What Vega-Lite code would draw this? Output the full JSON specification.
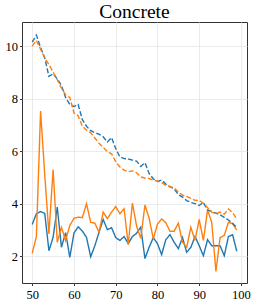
{
  "$schema": "https://vega.github.io/schema/vega-lite/v6.json",
  "width": 225,
  "height": 261,
  "autosize": {"type": "none"},
  "padding": {"left": 22, "top": 22, "right": 8, "bottom": 21},
  "background": "white",
  "title": {"text": "Concrete", "font": "Liberation Serif", "fontSize": 19.5, "fontWeight": "normal", "color": "black", "offset": 3, "dy": 3},
  "config": {
    "view": {"stroke": "#333", "strokeWidth": 1},
    "axis": {
      "labelFont": "Liberation Serif", "labelFontSize": 12.5, "labelColor": "black",
      "domain": false, "tickColor": "#333", "tickSize": 2.5,
      "gridColor": "#e6e6e6", "gridWidth": 0.8, "title": null
    }
  },
  "data": {
    "values": [
      {"x":50,"bs":3.21,"os":2.11,"bd":10.15,"od":10.0},
      {"x":51,"bs":3.62,"os":2.75,"bd":10.42,"od":10.22},
      {"x":52,"bs":3.70,"os":7.53,"bd":9.95,"od":9.88},
      {"x":53,"bs":3.63,"os":5.1,"bd":9.55,"od":9.55},
      {"x":54,"bs":2.21,"os":2.85,"bd":8.85,"od":9.30},
      {"x":55,"bs":2.72,"os":5.30,"bd":8.95,"od":9.02},
      {"x":56,"bs":3.87,"os":2.53,"bd":8.75,"od":8.72},
      {"x":57,"bs":2.34,"os":3.10,"bd":8.50,"od":8.40},
      {"x":58,"bs":2.90,"os":2.60,"bd":8.05,"od":8.15},
      {"x":59,"bs":1.96,"os":3.17,"bd":7.78,"od":8.05},
      {"x":60,"bs":2.88,"os":3.44,"bd":7.70,"od":7.45},
      {"x":61,"bs":3.12,"os":3.49,"bd":7.78,"od":7.35},
      {"x":62,"bs":2.96,"os":3.47,"bd":7.20,"od":6.95},
      {"x":63,"bs":2.72,"os":4.00,"bd":6.95,"od":6.80},
      {"x":64,"bs":1.98,"os":3.29,"bd":6.78,"od":6.70},
      {"x":65,"bs":2.40,"os":3.26,"bd":6.70,"od":6.50},
      {"x":66,"bs":2.91,"os":2.91,"bd":6.65,"od":6.30},
      {"x":67,"bs":3.40,"os":3.68,"bd":6.55,"od":6.15},
      {"x":68,"bs":3.01,"os":3.43,"bd":6.35,"od":5.98},
      {"x":69,"bs":3.09,"os":3.68,"bd":6.52,"od":5.90},
      {"x":70,"bs":2.71,"os":3.89,"bd":6.10,"od":5.60},
      {"x":71,"bs":2.60,"os":3.62,"bd":5.78,"od":5.40},
      {"x":72,"bs":2.75,"os":3.81,"bd":5.72,"od":5.28},
      {"x":73,"bs":2.48,"os":2.44,"bd":5.70,"od":5.22},
      {"x":74,"bs":2.75,"os":4.02,"bd":5.66,"od":5.25},
      {"x":75,"bs":2.87,"os":3.15,"bd":5.62,"od":5.18},
      {"x":76,"bs":3.11,"os":2.68,"bd":5.42,"od":5.02},
      {"x":77,"bs":1.91,"os":3.95,"bd":5.56,"od":4.98},
      {"x":78,"bs":2.34,"os":3.45,"bd":5.15,"od":4.96},
      {"x":79,"bs":2.71,"os":2.66,"bd":4.95,"od":4.90},
      {"x":80,"bs":2.48,"os":3.22,"bd":4.85,"od":4.86},
      {"x":81,"bs":2.06,"os":3.42,"bd":4.90,"od":4.80},
      {"x":82,"bs":2.63,"os":3.28,"bd":4.75,"od":4.70},
      {"x":83,"bs":2.82,"os":2.95,"bd":4.64,"od":4.65},
      {"x":84,"bs":2.53,"os":2.95,"bd":4.57,"od":4.60},
      {"x":85,"bs":2.29,"os":3.26,"bd":4.35,"od":4.45},
      {"x":86,"bs":2.71,"os":2.53,"bd":4.25,"od":4.32},
      {"x":87,"bs":2.15,"os":2.34,"bd":4.12,"od":4.28},
      {"x":88,"bs":2.34,"os":3.10,"bd":4.05,"od":4.20},
      {"x":89,"bs":2.75,"os":2.60,"bd":4.00,"od":4.13},
      {"x":90,"bs":2.40,"os":3.40,"bd":3.93,"od":4.12},
      {"x":91,"bs":2.02,"os":2.60,"bd":4.05,"od":4.02},
      {"x":92,"bs":2.63,"os":3.76,"bd":3.76,"od":3.85},
      {"x":93,"bs":2.40,"os":3.29,"bd":3.70,"od":3.68},
      {"x":94,"bs":2.40,"os":1.42,"bd":3.64,"od":3.62},
      {"x":95,"bs":2.40,"os":2.71,"bd":3.58,"od":3.68},
      {"x":96,"bs":2.02,"os":2.79,"bd":3.48,"od":3.60},
      {"x":97,"bs":2.75,"os":3.29,"bd":3.38,"od":3.80},
      {"x":98,"bs":2.82,"os":3.24,"bd":3.25,"od":3.66},
      {"x":99,"bs":2.19,"os":2.99,"bd":3.10,"od":3.42}
    ]
  },
  "transform": [{"fold": ["bs", "os", "bd", "od"], "as": ["s", "v"]}],
  "mark": {"type": "line", "strokeWidth": 1.4, "clip": true},
  "encoding": {
    "x": {"field": "x", "type": "quantitative", "scale": {"domain": [47.55, 101.45], "nice": false, "zero": false}, "axis": {"values": [50, 60, 70, 80, 90, 100], "labelPadding": 3}},
    "y": {"field": "v", "type": "quantitative", "scale": {"domain": [0.98, 10.92], "nice": false, "zero": false}, "axis": {"values": [2, 4, 6, 8, 10], "labelPadding": 2}},
    "color": {"field": "s", "type": "nominal", "scale": {"domain": ["bs", "os", "bd", "od"], "range": ["#1f77b4", "#ff7f0e", "#1f77b4", "#ff7f0e"]}, "legend": null},
    "strokeDash": {"field": "s", "type": "nominal", "scale": {"domain": ["bs", "os", "bd", "od"], "range": [[1, 0], [1, 0], [5, 2.2], [5, 2.2]]}, "legend": null},
    "order": {"field": "x", "type": "quantitative"}
  }
}
